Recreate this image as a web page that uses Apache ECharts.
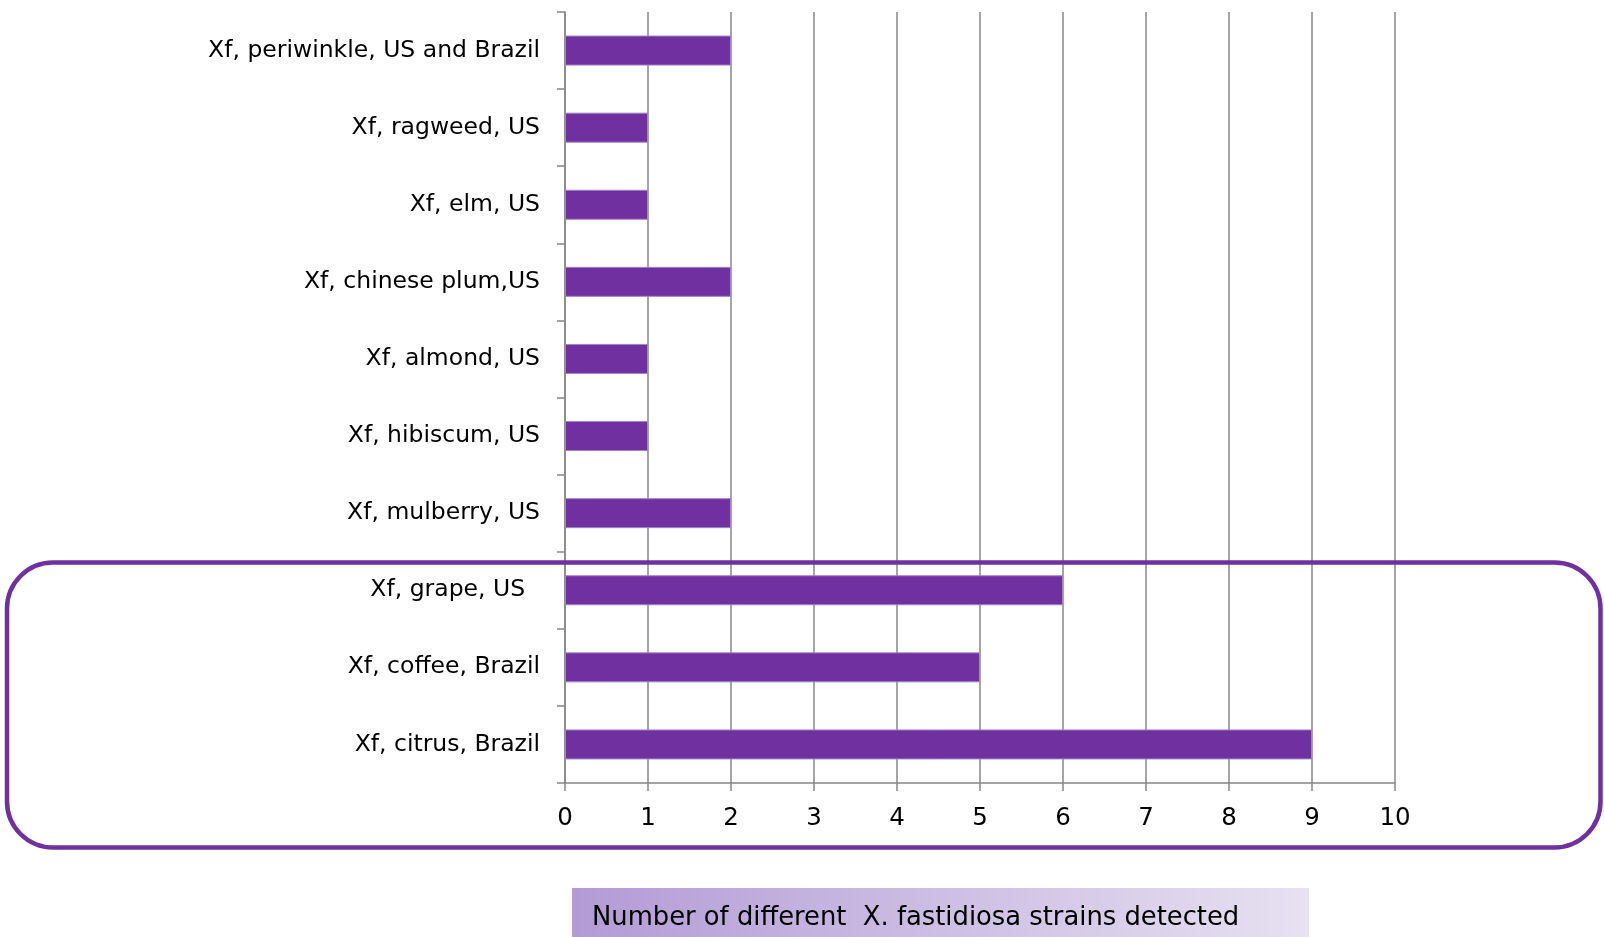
<!DOCTYPE html>
<html>
<head>
<meta charset="utf-8">
<script src="https://cdn.jsdelivr.net/npm/echarts@6/dist/echarts.min.js"></script>
<style>
  html, body { margin: 0; padding: 0; background: #ffffff; }
  #chart { width: 1604px; height: 937px; }
</style>
</head>
<body>
<div id="chart"></div>
<script>
// Host / origin groups, listed top to bottom
const categories = [
  'Xf, periwinkle, US and Brazil',
  'Xf, ragweed, US',
  'Xf, elm, US',
  'Xf, chinese plum,US',
  'Xf, almond, US',
  'Xf, hibiscum, US',
  'Xf, mulberry, US',
  'Xf, grape, US  ',
  'Xf, coffee, Brazil',
  'Xf, citrus, Brazil'
];
// Number of distinct strains detected in each group
const strainCounts = [2, 1, 1, 2, 1, 1, 2, 6, 5, 9];
// Value axis ticks
const xTicks = [0, 1, 2, 3, 4, 5, 6, 7, 8, 9, 10];
const axisTitle = 'Number of different  X. fastidiosa strains detected';

const FONT = 'DejaVu Sans';
const PURPLE = '#7030a0';
const GRID_GRAY = '#878787';

const chart = echarts.init(document.getElementById('chart'), null, { renderer: 'canvas' });

chart.setOption({
  backgroundColor: '#ffffff',
  animation: false,
  grid: { left: 565, right: 209, top: 12, bottom: 154, containLabel: false },
  xAxis: {
    type: 'value',
    min: xTicks[0],
    max: xTicks[xTicks.length - 1],
    interval: 1,
    axisLine: { show: true, lineStyle: { color: GRID_GRAY, width: 1.5 } },
    axisTick: { show: true, length: 8, lineStyle: { color: GRID_GRAY, width: 1.5 } },
    splitLine: { show: true, lineStyle: { color: GRID_GRAY, width: 1.5 } },
    axisLabel: { color: '#000', fontFamily: FONT, fontSize: 24.5, margin: 23 }
  },
  yAxis: {
    type: 'category',
    inverse: true,
    data: categories,
    axisLine: { show: true, lineStyle: { color: GRID_GRAY, width: 1.5 } },
    axisTick: { show: true, length: 8, lineStyle: { color: GRID_GRAY, width: 1.5 } },
    splitLine: { show: false },
    axisLabel: {
      color: '#000', fontFamily: FONT, fontSize: 23.5, margin: 25,
      padding: [6, 0, 0, 0]
    }
  },
  series: [{
    type: 'bar',
    data: strainCounts,
    barWidth: 30,
    itemStyle: { color: PURPLE, borderColor: '#a184c9', borderWidth: 1 }
  }],
  graphic: [
    {
      type: 'rect',
      shape: { x: 7, y: 562.5, width: 1593.5, height: 285, r: 46 },
      style: { fill: 'none', stroke: PURPLE, lineWidth: 4.5 },
      z: 100
    },
    {
      type: 'rect',
      shape: { x: 572, y: 888, width: 737, height: 49 },
      style: {
        fill: new echarts.graphic.LinearGradient(0, 0, 1, 0, [
          { offset: 0, color: '#b39bd6' },
          { offset: 1, color: '#e7e1f1' }
        ])
      },
      z: 100
    },
    {
      type: 'text',
      x: 592,
      y: 918,
      style: {
        text: axisTitle,
        fill: '#000',
        font: '25.8px "' + FONT + '"',
        textAlign: 'left',
        textVerticalAlign: 'middle'
      },
      z: 101
    }
  ]
});
</script>
</body>
</html>
